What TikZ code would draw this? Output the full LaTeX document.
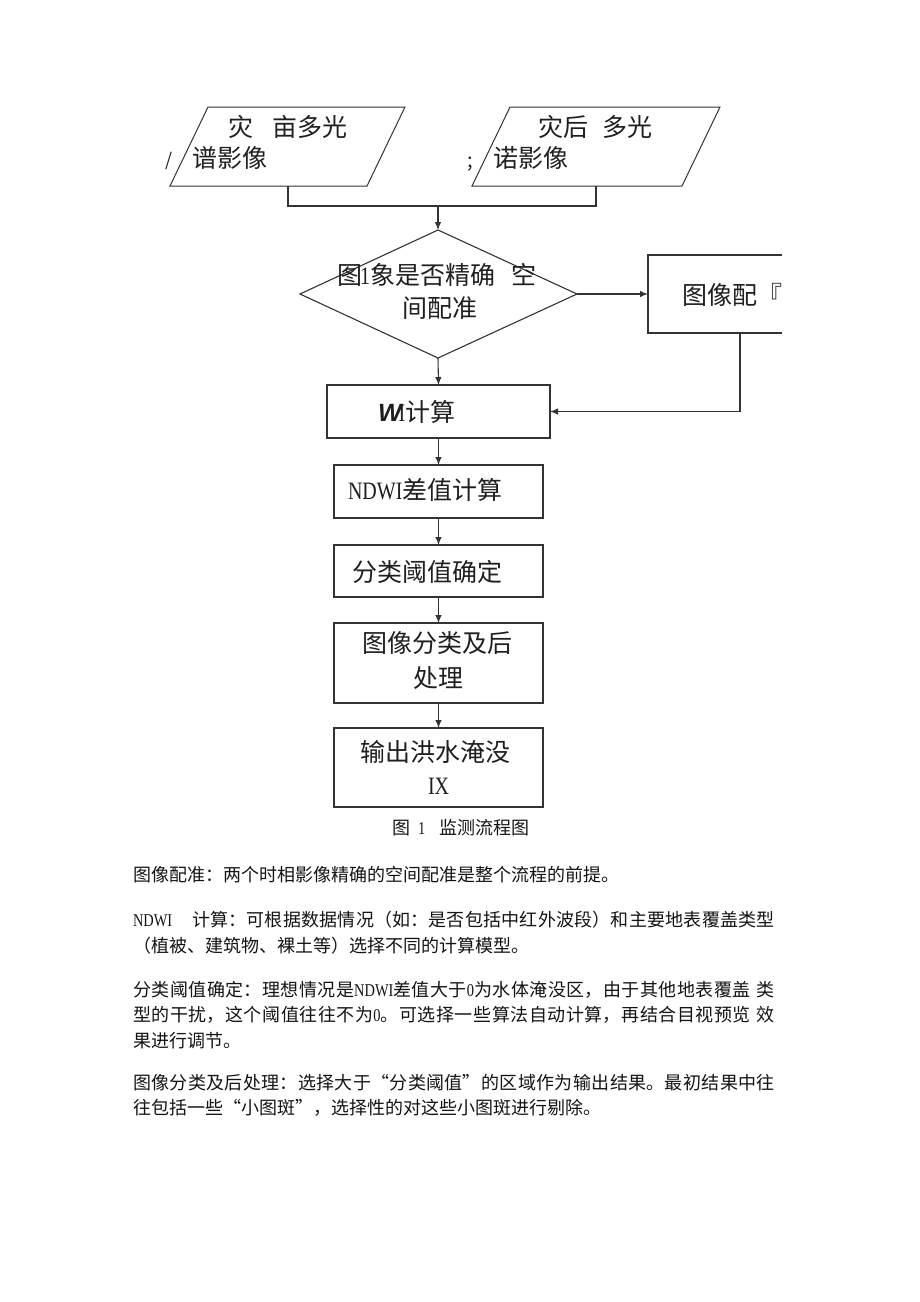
\documentclass[tikz,border=0pt]{standalone}
\usepackage{fontspec}
\setmainfont{Noto Sans CJK SC}
\newfontfamily\nserif[FakeStretch=0.8]{Liberation Serif}
\newfontfamily\lsans{Liberation Sans}
\usetikzlibrary{arrows.meta}
\XeTeXlinebreaklocale "zh"
\XeTeXlinebreakskip=0pt plus 5pt
\newcommand{\jline}[1]{\vbox{\hsize=642pt\parindent=0pt\parfillskip=0pt\leftskip=0pt\rightskip=0pt\tolerance=9999\noindent #1}}
\tikzset{
  ln/.style={draw=black!80, line width=1.1pt},
  arr/.style={ln, -{Latex[length=8pt,width=6.5pt]}},
  stepbox/.style={draw=black!80, line width=1.4pt, rectangle, inner sep=0pt, outer sep=0pt},
  dtxt/.style={anchor=base west, inner sep=0pt, outer sep=0pt, font=\fontsize{25}{30}\selectfont, text=black!88},
  btxt/.style={anchor=base west, inner sep=0pt, outer sep=0pt, font=\fontsize{18}{22}\selectfont, text=black!92},
}
\begin{document}
\begin{tikzpicture}[x=1pt,y=-1pt]
\fill[white] (0,0) rectangle (920,1302);
\path[use as bounding box] (0,0) rectangle (920,1302);

% parallelograms
\coordinate (p1a) at (208,107); \coordinate (p1b) at (405,107);
\coordinate (p1c) at (367,186); \coordinate (p1d) at (170,186);
\draw[ln, line width=1pt] (p1a)--(p1b)--(p1c)--(p1d)--cycle;
\coordinate (p2a) at (510,107); \coordinate (p2b) at (720,107);
\coordinate (p2c) at (682,186); \coordinate (p2d) at (472,186);
\draw[ln, line width=1pt] (p2a)--(p2b)--(p2c)--(p2d)--cycle;
\coordinate (p1s) at (288,186);
\coordinate (p2s) at (596,186);

\node[dtxt] (t1a) at (228,136.5) {灾\hspace{19pt}亩多光};
\node[dtxt, font=\fontsize{18}{20}\selectfont] (t1s) at (165,166) {/};
\node[dtxt] (t1b) at (192,167.5) {谱影像};
\node[dtxt] (t2a) at (538,136.5) {灾后\hspace{14pt}多光};
\node[dtxt, font=\fontsize{20}{22}\selectfont] (t2s) at (467,167) {;};
\node[dtxt] (t2b) at (493,167.5) {诺影像};

% diamond
\coordinate (dT) at (438,230); \coordinate (dR) at (577,294);
\coordinate (dB) at (438,358); \coordinate (dL) at (300,294);
\draw[ln] (dT)--(dR)--(dB)--(dL)--cycle;
\node[dtxt] (d1) at (337,284.5) {图\kern-2pt{\nserif 1}象是否精确\hspace{16pt}空};
\node[dtxt] (d2) at (402,317.5) {间配准};

% registration box (cut at right)
\draw[stepbox] (782,255) -- (648,255) -- (648,333) -- (782,333);
\coordinate (rgW) at (648,294);
\coordinate (rgS) at (740,333);
\node[dtxt] (rg) at (682,304.5) {图像配『};

% boxes
\node[stepbox, minimum width=223pt, minimum height=53pt] (b1) at (438.5,411.5) {};
\node[stepbox, minimum width=209pt, minimum height=53pt] (b2) at (438.5,491.5) {};
\node[stepbox, minimum width=209pt, minimum height=52pt] (b3) at (438.5,571) {};
\node[stepbox, minimum width=209pt, minimum height=80pt] (b4) at (438.5,663) {};
\node[stepbox, minimum width=209pt, minimum height=79pt] (b5) at (438.5,767.5) {};

\node[dtxt] (b1t) at (378,421.5) {{\lsans\bfseries\itshape W}\kern-3pt{\nserif I}计算};
\node[dtxt] (b2t) at (348,499.5) {{\nserif NDWI}差值计算};
\node[dtxt] (b3t) at (352,581.5) {分类阈值确定};
\node[dtxt] (b4a) at (362,652.5) {图像分类及后};
\node[dtxt] (b4b) at (413,687.5) {处理};
\node[dtxt] (b5a) at (360,761.5) {输出洪水淹没};
\node[dtxt] (b5b) at (428,794.5) {\nserif IX};

% connectors
\coordinate (jn) at (438,206);
\draw[ln] (p1s) |- (jn) -| (p2s);
\draw[arr] (jn) -- (dT);
\draw[arr] (dR) -- (rgW);
\draw[arr] (rgS) |- (b1.east);
\draw[arr] (dB) -- (b1.north);
\draw[arr] (b1.south) -- (b2.north);
\draw[arr] (b2.south) -- (b3.north);
\draw[arr] (b3.south) -- (b4.north);
\draw[arr] (b4.south) -- (b5.north);

% caption
\node[btxt] (cap) at (392,834.8) {图\hspace{8pt}{\nserif 1}\hspace{14pt}监测流程图};

% body text
\node[btxt] (l1) at (133,881.8) {图像配准：两个时相影像精确的空间配准是整个流程的前提。};
\node[btxt] (l2) at (133,926.8) {\jline{{\nserif NDWI}\hspace{20pt}计算：可根据数据情况（如：是否包括中红外波段）和主要地表覆盖类型}};
\node[btxt] (l3) at (133,952.8) {（植被、建筑物、裸土等）选择不同的计算模型。};
\node[btxt] (l4) at (133,996.8) {\jline{分类阈值确定：理想情况是{\nserif NDWI}差值大于{\nserif 0}为水体淹没区，由于其他地表覆盖\hspace{6pt}类}};
\node[btxt] (l5) at (133,1021.8) {\jline{型的干扰，这个阈值往往不为{\nserif 0}。可选择一些算法自动计算，再结合目视预览\hspace{6pt}效}};
\node[btxt] (l6) at (133,1047.8) {果进行调节。};
\node[btxt] (l7) at (133,1089.8) {\jline{图像分类及后处理：选择大于“分类阈值”的区域作为输出结果。最初结果中往}};
\node[btxt] (l8) at (133,1114.8) {往包括一些“小图斑”，选择性的对这些小图斑进行剔除。};
\end{tikzpicture}
\end{document}
